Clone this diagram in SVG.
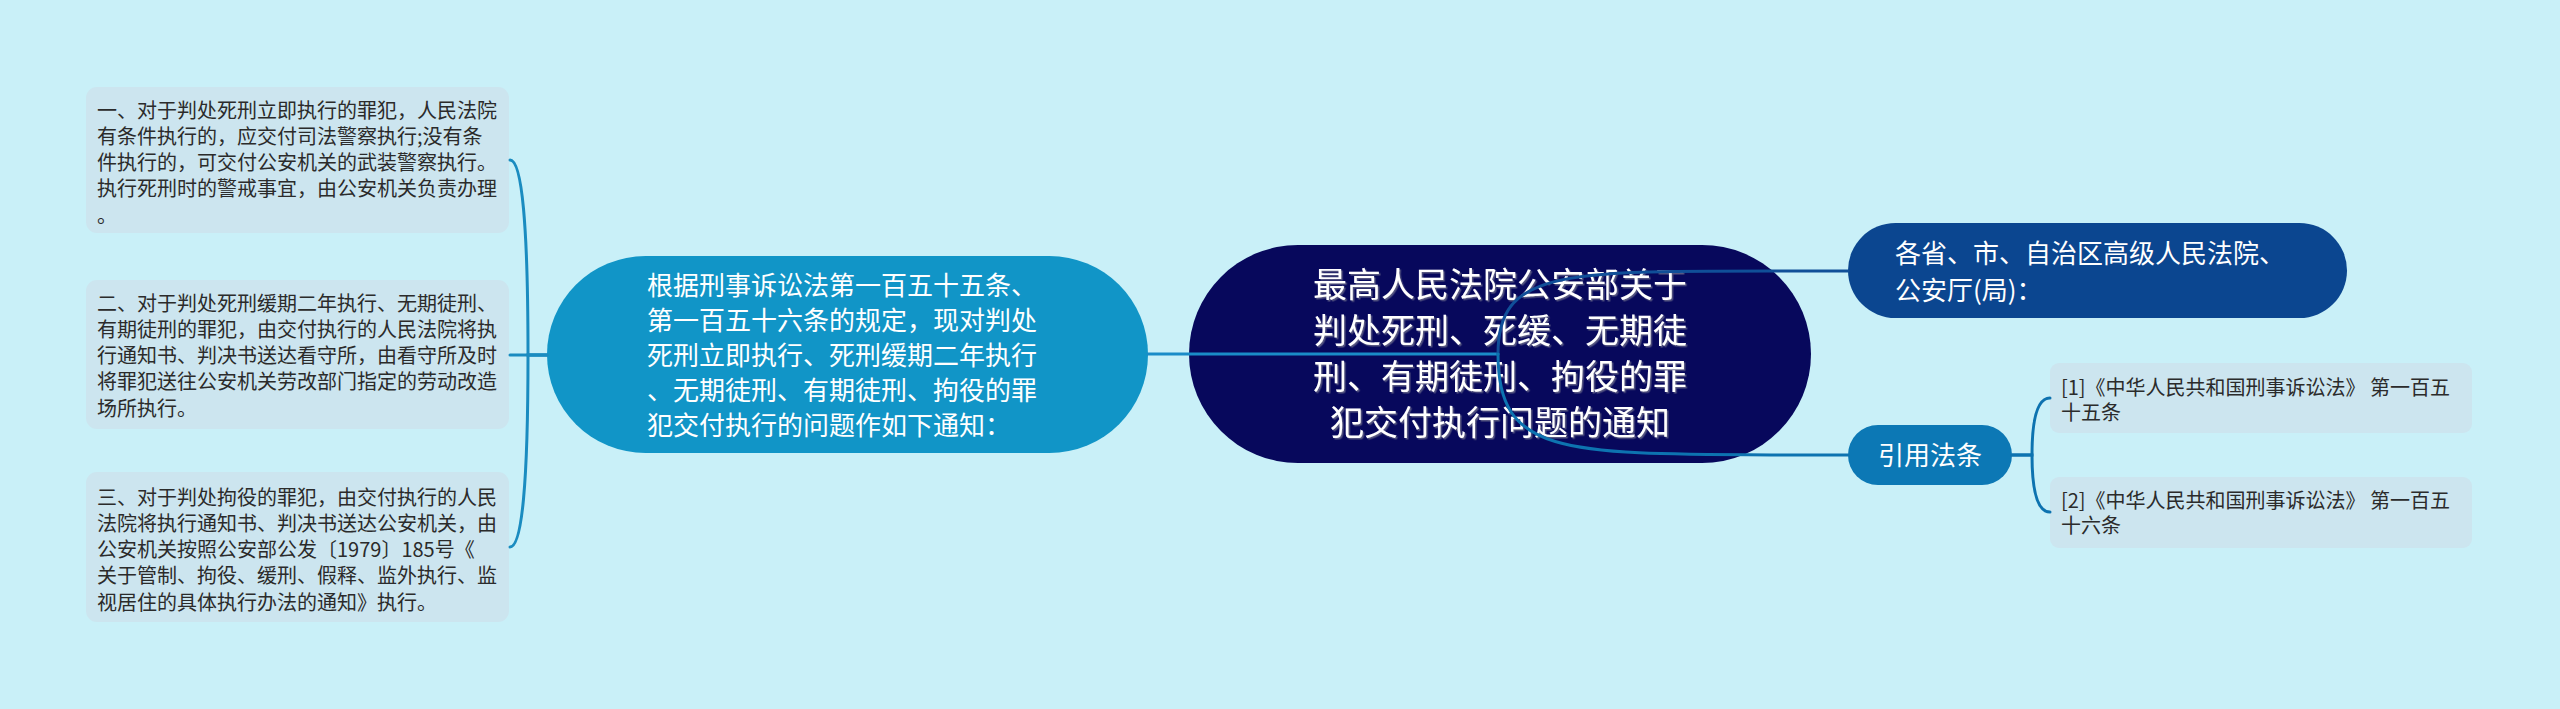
<svg xmlns="http://www.w3.org/2000/svg" width="2560" height="709" viewBox="0 0 2560 709">
<defs>
<style>
.t{font-family:"Noto Sans CJK SC","Noto Sans",sans-serif;}
.box{fill:#cce5ef;}
.bt{font-size:20px;fill:#2b2b2b;}
.wt{fill:#ffffff;}
.c{fill:none;stroke-width:3;stroke-linecap:round;}
</style>
<filter id="sh" x="-5%" y="-5%" width="110%" height="110%">
<feDropShadow dx="1.5" dy="1.5" stdDeviation="0.6" flood-color="#6a6a8a" flood-opacity="0.8"/>
</filter>
</defs>
<rect x="0" y="0" width="2560" height="709" fill="#c9f0f8"/>

<g id="node-left1">
<rect class="box" x="86" y="87" width="423" height="146" rx="11"/>
<text class="t bt" x="97" y="117.5">一、对于判处死刑立即执行的罪犯，人民法院</text>
<text class="t bt" x="97" y="143.8">有条件执行的，应交付司法警察执行;没有条</text>
<text class="t bt" x="97" y="170">件执行的，可交付公安机关的武装警察执行。</text>
<text class="t bt" x="97" y="196.3">执行死刑时的警戒事宜，由公安机关负责办理</text>
<text class="t bt" x="97" y="222.6">。</text>
</g>

<g id="node-left2">
<rect class="box" x="86" y="280" width="423" height="149" rx="11"/>
<text class="t bt" x="97" y="310.5">二、对于判处死刑缓期二年执行、无期徒刑、</text>
<text class="t bt" x="97" y="336.8">有期徒刑的罪犯，由交付执行的人民法院将执</text>
<text class="t bt" x="97" y="363">行通知书、判决书送达看守所，由看守所及时</text>
<text class="t bt" x="97" y="389.3">将罪犯送往公安机关劳改部门指定的劳动改造</text>
<text class="t bt" x="97" y="415.6">场所执行。</text>
</g>

<g id="node-left3">
<rect class="box" x="86" y="472" width="423" height="150" rx="11"/>
<text class="t bt" x="97" y="504.5">三、对于判处拘役的罪犯，由交付执行的人民</text>
<text class="t bt" x="97" y="530.8">法院将执行通知书、判决书送达公安机关，由</text>
<text class="t bt" x="97" y="557">公安机关按照公安部公发〔1979〕185号《</text>
<text class="t bt" x="97" y="583.3">关于管制、拘役、缓刑、假释、监外执行、监</text>
<text class="t bt" x="97" y="609.6">视居住的具体执行办法的通知》执行。</text>
</g>

<g id="node-middle">
<rect x="547" y="256" width="601" height="197" rx="98.5" fill="#1195c7"/>
<text class="t wt" font-size="26" x="647" y="295">根据刑事诉讼法第一百五十五条、</text>
<text class="t wt" font-size="26" x="647" y="330">第一百五十六条的规定，现对判处</text>
<text class="t wt" font-size="26" x="647" y="365">死刑立即执行、死刑缓期二年执行</text>
<text class="t wt" font-size="26" x="647" y="400">、无期徒刑、有期徒刑、拘役的罪</text>
<text class="t wt" font-size="26" x="647" y="435">犯交付执行的问题作如下通知：</text>
</g>

<g id="node-central">
<rect x="1189" y="245" width="622" height="218" rx="109" fill="#07085c"/>
<g filter="url(#sh)">
<text class="t wt" font-size="34" x="1500" y="297" text-anchor="middle">最高人民法院公安部关于</text>
<text class="t wt" font-size="34" x="1500" y="343" text-anchor="middle">判处死刑、死缓、无期徒</text>
<text class="t wt" font-size="34" x="1500" y="389" text-anchor="middle">刑、有期徒刑、拘役的罪</text>
<text class="t wt" font-size="34" x="1500" y="435" text-anchor="middle">犯交付执行问题的通知</text>
</g>
</g>

<g id="node-top-right">
<rect x="1848" y="223" width="499" height="95" rx="47.5" fill="#0b4690"/>
<text class="t wt" font-size="26" x="1895" y="262.5">各省、市、自治区高级人民法院、</text>
<text class="t wt" font-size="26" x="1895" y="299.5">公安厅(局)：</text>
</g>

<g id="node-cite">
<rect x="1848" y="425" width="164" height="60" rx="30" fill="#0c78b5"/>
<text class="t wt" font-size="26" x="1930" y="464.5" text-anchor="middle">引用法条</text>
</g>

<g id="node-cite1">
<rect class="box" x="2050" y="363" width="422" height="70" rx="9"/>
<text class="t bt" x="2061" y="394.5">[1]《中华人民共和国刑事诉讼法》 第一百五</text>
<text class="t bt" x="2061" y="419.5">十五条</text>
</g>

<g id="node-cite2">
<rect class="box" x="2050" y="477" width="422" height="71" rx="9"/>
<text class="t bt" x="2061" y="507.5">[2]《中华人民共和国刑事诉讼法》 第一百五</text>
<text class="t bt" x="2061" y="532.5">十六条</text>
</g>

<g id="connectors">
<path class="c" stroke="#1a8cc0" d="M547 355 L528 355 Q528 160 510 160"/>
<path class="c" stroke="#1a8cc0" d="M547 355 L510 355"/>
<path class="c" stroke="#1a8cc0" d="M547 355 L528 355 Q528 547 510 547"/>
<path class="c" stroke="#1a8cc8" d="M1148 354 L1498 354"/>
<path class="c" stroke="#104f98" d="M1498 354 C1498 271 1560 271 1773 271 L1848 271"/>
<path class="c" stroke="#0d73b0" d="M1498 354 C1498 454 1560 454 1773 455 L1848 455"/>
<path class="c" stroke="#0d73b0" d="M2012 455 L2032 455 Q2032 398 2050 398"/>
<path class="c" stroke="#0d73b0" d="M2012 455 L2032 455 Q2032 512 2050 512"/>
</g>
</svg>
